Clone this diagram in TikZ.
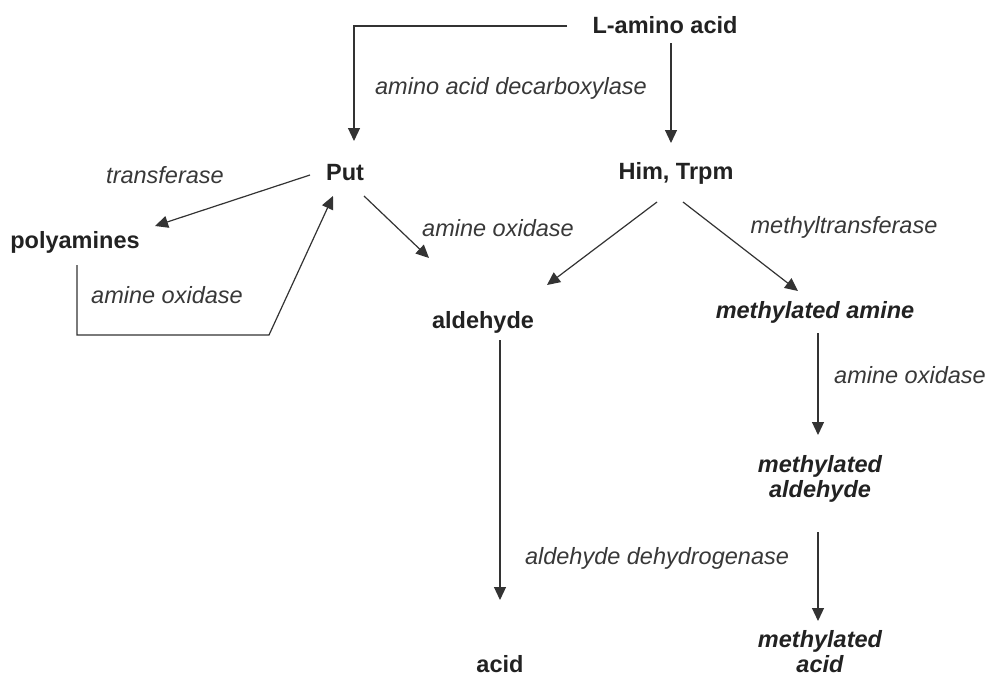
\documentclass[tikz,border=0pt]{standalone}
\usepackage{fontspec}
\setmainfont{Liberation Sans}
\usetikzlibrary{arrows.meta}
\definecolor{txt}{HTML}{222222}
\definecolor{lab}{HTML}{383838}
\definecolor{ln}{HTML}{333333}
\begin{document}
\begin{tikzpicture}[x=1pt,y=-1pt,
  chem/.style={font=\fontsize{23.5}{25}\selectfont\bfseries, text=txt, inner sep=0pt, align=center},
  meth/.style={font=\fontsize{23.5}{25}\selectfont\bfseries\itshape, text=txt, inner sep=0pt, align=center},
  enz/.style={font=\fontsize{23.5}{25}\selectfont\itshape, text=lab, inner sep=0pt},
  conn/.style={draw=ln, line width=1.2pt},
  arr/.style={conn, -{Triangle[length=13pt,width=12pt]}}]
\fill[white] (0,0) rectangle (988,680);
\useasboundingbox (0,0) rectangle (988,680);
% compounds
\node[chem] (laa) at (665,25) {L-amino acid};
\node[chem] (put) at (345,173) {Put};
\node[chem] (him) at (676,173) {Him, Trpm};
\node[chem] (poly) at (75,242) {polyamines};
\node[chem] (ald) at (483,322) {aldehyde};
\node[meth] (mam) at (815,312) {methylated amine};
\node[meth] (mald) at (820,479) {methylated\\aldehyde};
\node[chem] (acid) at (500,664) {acid};
\node[meth] (macid) at (820,652) {methylated\\acid};
% enzymes
\node[enz] (e1) at (511,88) {amino acid decarboxylase};
\node[enz] (e2) at (165,175) {transferase};
\node[enz] (e3) at (167,295) {amine oxidase};
\node[enz] (e4) at (498,228) {amine oxidase};
\node[enz] (e5) at (844,227) {methyltransferase};
\node[enz] (e6) at (910,375) {amine oxidase};
\node[enz] (e7) at (657,558) {aldehyde dehydrogenase};
% connector ends
\coordinate (laaL) at (567,26);
\coordinate (putT) at (354,141);
\coordinate (laaB) at (671,43);
\coordinate (himT) at (671,143);
\coordinate (putL) at (310,175);
\coordinate (polyR) at (155,226);
\coordinate (polyB) at (77,265);
\coordinate (loopC) at (269,335);
\coordinate (putB) at (333,196);
\coordinate (putR) at (364,196);
\coordinate (aldL) at (429,258);
\coordinate (himL) at (657,202);
\coordinate (aldR) at (547,285);
\coordinate (himR) at (683,202);
\coordinate (mamT) at (798,291);
\coordinate (mamB) at (818,333);
\coordinate (maldT) at (818,435);
\coordinate (aldB) at (500,340);
\coordinate (acidT) at (500,600);
\coordinate (maldB) at (818,532);
\coordinate (macidT) at (818,621);
% connectors
\draw[arr] (laaL) -| (putT);
\draw[arr] (laaB) -- (himT);
\draw[arr] (putL) -- (polyR);
\draw[arr] (polyB) |- (loopC) -- (putB);
\draw[arr] (putR) -- (aldL);
\draw[arr] (himL) -- (aldR);
\draw[arr] (himR) -- (mamT);
\draw[arr] (mamB) -- (maldT);
\draw[arr] (aldB) -- (acidT);
\draw[arr] (maldB) -- (macidT);
\end{tikzpicture}
\end{document}
